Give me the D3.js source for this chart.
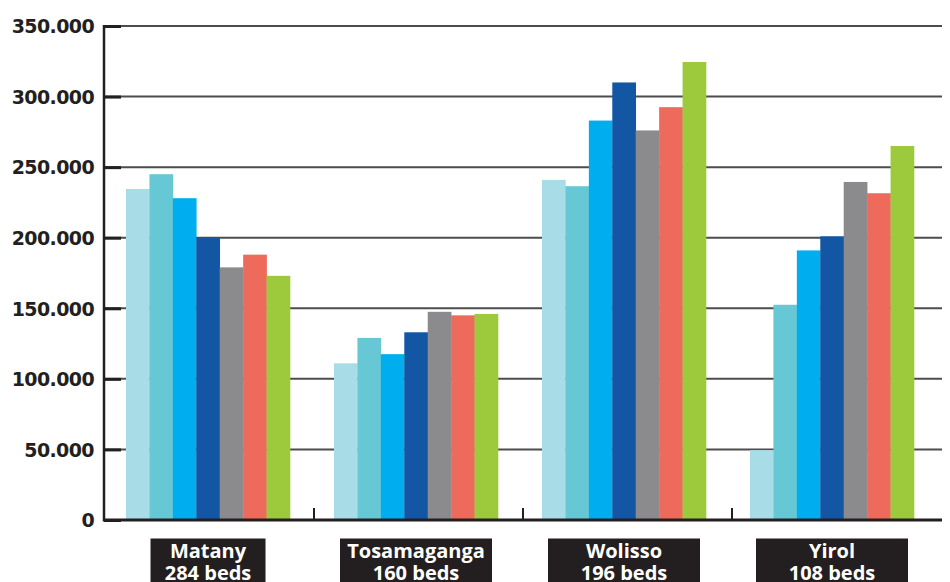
<!DOCTYPE html>
<html>
<head>
<meta charset="utf-8">
<style>
    body { margin: 0; background: #fff; }
    svg { display: block; font-family: 'Open Sans', sans-serif; }
    .tick-label { font-family: 'DejaVu Sans', sans-serif; font-weight: 700; font-size: 19px; fill: #231f20; letter-spacing: -0.6px; }
    .cat-label { font-weight: 700; font-size: 20px; fill: #fff; }
</style>
</head>
<body>
<svg width="950" height="582"></svg>

<script src="https://cdnjs.cloudflare.com/ajax/libs/d3/7.8.5/d3.min.js"></script>
<script>
    // values, in thousands
    const hospitals = ["Matany", "Tosamaganga", "Wolisso", "Yirol"];
    const beds = ["284 beds", "160 beds", "196 beds", "108 beds"];
    const series = ["s1", "s2", "s3", "s4", "s5", "s6", "s7"];
    const matany = [234.5, 245, 228, 200, 179, 188, 173];
    const tosamaganga = [111, 129, 117.5, 133, 147.5, 145, 146];
    const wolisso = [241, 236.5, 283, 310, 276, 292.5, 324.5];
    const yirol = [49.5, 152.5, 191, 201, 239.5, 231.5, 265];
    const yTicks = [0, 50, 100, 150, 200, 250, 300, 350];

    const colors = ["#a8dce6", "#66c8d4", "#00aeef", "#1356a3", "#8b8b8d", "#ee6a5a", "#9cca3c"];
    const dark = "#231f20";

    const rows = [matany, tosamaganga, wolisso, yirol];

    const svg = d3.select("svg");
    const mLeft = 104, mRight = 942, mTop = 26, mBottom = 520;

    const y = d3.scaleLinear().domain([0, 350]).range([mBottom, mTop]);
    const x0 = d3.scaleBand().domain(hospitals).range([mLeft, 936])
        .paddingInner(0.2115).paddingOuter(0.1058);
    const x1 = d3.scaleBand().domain(series).range([0, x0.bandwidth()]);

    // gridlines
    svg.append("g")
        .selectAll("line")
        .data(yTicks.filter(d => d > 0))
        .join("line")
        .attr("x1", mLeft).attr("x2", mRight)
        .attr("y1", d => y(d)).attr("y2", d => y(d))
        .attr("stroke", "#4d4d4d")
        .attr("stroke-width", 2);

    // bars
    svg.append("g")
        .selectAll("g")
        .data(hospitals)
        .join("g")
        .attr("transform", d => `translate(${x0(d)},0)`)
        .selectAll("rect")
        .data((d, i) => rows[i].map((v, j) => ({ s: series[j], v: v, c: colors[j] })))
        .join("rect")
        .attr("x", d => x1(d.s))
        .attr("width", x1.bandwidth() + 0.3)
        .attr("y", d => y(d.v))
        .attr("height", d => y(0) - y(d.v))
        .attr("fill", d => d.c);

    // y axis
    const yAxis = d3.axisLeft(y)
        .tickValues(yTicks)
        .tickSize(-17)
        .tickPadding(10)
        .tickFormat(d => d === 0 ? "0" : d3.format(",")(d * 1000).replace(/,/g, "."));
    const ya = svg.append("g")
        .attr("transform", `translate(${mLeft},0)`)
        .call(yAxis);
    ya.select(".domain").remove();
    ya.selectAll(".tick line").attr("stroke", dark).attr("stroke-width", 3);
    ya.selectAll(".tick text")
        .attr("class", "tick-label")
        .attr("x", -10)
        .attr("dy", "0.36em");

    svg.append("line")
        .attr("x1", mLeft).attr("x2", mLeft)
        .attr("y1", mTop - 1).attr("y2", mBottom + 1.5)
        .attr("stroke", dark).attr("stroke-width", 2.5);

    // baseline
    svg.append("line")
        .attr("x1", mLeft).attr("x2", mRight)
        .attr("y1", mBottom).attr("y2", mBottom)
        .attr("stroke", dark).attr("stroke-width", 3);

    // group separator ticks
    const step = x0.step();
    svg.append("g")
        .selectAll("line")
        .data(hospitals.slice(1))
        .join("line")
        .attr("x1", (d, i) => x0(d) - step * x0.paddingInner() / 2 + 2 + i)
        .attr("x2", (d, i) => x0(d) - step * x0.paddingInner() / 2 + 2 + i)
        .attr("y1", mBottom - 12).attr("y2", mBottom)
        .attr("stroke", dark).attr("stroke-width", 2);

    // category labels
    const cat = svg.append("g")
        .selectAll("g")
        .data(hospitals)
        .join("g")
        .attr("transform", d => `translate(${x0(d) + x0.bandwidth() / 2},0)`);

    cat.append("rect")
        .attr("x", (d, i) => i === 0 ? -57.5 : -76)
        .attr("width", (d, i) => i === 0 ? 115 : 152)
        .attr("y", 538.5)
        .attr("height", 60)
        .attr("fill", dark);

    cat.append("text")
        .attr("class", "cat-label")
        .attr("text-anchor", "middle")
        .attr("y", 557.5)
        .text(d => d);

    cat.append("text")
        .attr("class", "cat-label")
        .attr("text-anchor", "middle")
        .attr("y", 579.5)
        .text((d, i) => beds[i]);
</script>
</body>
</html>
